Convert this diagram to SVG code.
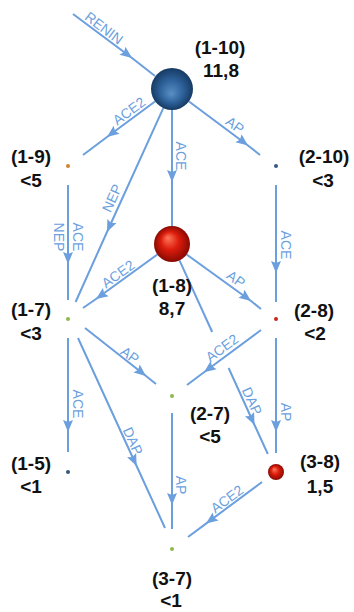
<svg xmlns="http://www.w3.org/2000/svg" width="354" height="612" viewBox="0 0 354 612">
<style>
.c{fill:none;stroke:#6b9fde;stroke-width:2;marker-mid:url(#ah)}
.s{fill:none;stroke:#6b9fde;stroke-width:2}
.l{font-family:"Liberation Sans",Arial,sans-serif;font-size:14px;fill:#6b9fde;text-anchor:middle}
.n{font-family:"Liberation Sans",Arial,sans-serif;font-size:19px;font-weight:bold;fill:#111;text-anchor:middle}
</style>
<defs>
<marker id="ah" markerUnits="userSpaceOnUse" markerWidth="14" markerHeight="12" viewBox="-13 -6 14 12" refX="0" refY="0" orient="auto">
<path d="M-12,-5 L0,0 L-12,5 L-10,0 z" fill="#6b9fde"/>
</marker>
<radialGradient id="gb" cx="50%" cy="50%" r="50%" fx="48%" fy="62%">
<stop offset="0" stop-color="#5a8fc6"/>
<stop offset="0.55" stop-color="#2d6199"/>
<stop offset="1" stop-color="#163a63"/>
</radialGradient>
<radialGradient id="gr" cx="50%" cy="50%" r="50%" fx="38%" fy="32%">
<stop offset="0" stop-color="#ff7a5c"/>
<stop offset="0.5" stop-color="#dc1c0c"/>
<stop offset="1" stop-color="#880a02"/>
</radialGradient>
</defs>

<g id="connectors">
<path class="c" d="M73,14 L132,58 L155,76"/>
<text class="l" transform="translate(104,28) rotate(37)" dy="0.35em">RENIN</text>

<path class="c" d="M155,101.5 L107,137 L83,155"/>
<text class="l" transform="translate(129,111) rotate(-36.5)" dy="0.35em">ACE2</text>

<path class="c" d="M172,110 L172,182 L172,226"/>
<text class="l" transform="translate(181,156) rotate(90)" dy="0.35em">ACE</text>

<path class="c" d="M189,101.5 L248,145.5 L260,155"/>
<text class="l" transform="translate(235,125) rotate(36.5)" dy="0.35em">AP</text>

<path class="c" d="M163.3,108.1 L107,232 L75.6,302"/>
<text class="l" transform="translate(112,198) rotate(-65.7)" dy="0.35em">NEP</text>

<path class="c" d="M68,185 L68,264 L68,300"/>
<text class="l" transform="translate(78,237) rotate(90)" dy="0.35em">ACE</text>
<text class="l" transform="translate(59,237) rotate(90)" dy="0.35em">NEP</text>

<path class="c" d="M157.4,254.5 L96,299 L83,308"/>
<text class="l" transform="translate(118,274) rotate(-35.8)" dy="0.35em">ACE2</text>

<path class="c" d="M186.6,254.5 L251,301 L261,309"/>
<text class="l" transform="translate(236,279) rotate(35.8)" dy="0.35em">AP</text>

<path class="c" d="M276,185 L276,273 L276,302"/>
<text class="l" transform="translate(286,245) rotate(90)" dy="0.35em">ACE</text>

<path class="s" d="M179.5,260.4 L212.2,332"/>
<path class="c" d="M228.6,368 L254.5,425 L267.8,454"/>
<text class="l" transform="translate(252,401) rotate(65.5)" dy="0.35em">DAP</text>

<path class="c" d="M261,330 L204,372.3 L187,385"/>
<text class="l" transform="translate(222,348) rotate(-36.5)" dy="0.35em">ACE2</text>

<path class="c" d="M85,328 L146,376 L156,384"/>
<text class="l" transform="translate(130,355) rotate(36.5)" dy="0.35em">AP</text>

<path class="c" d="M78,338 L136.6,466 L165,528"/>
<text class="l" transform="translate(133,441) rotate(65.7)" dy="0.35em">DAP</text>

<path class="c" d="M68,338 L68,432 L68,452"/>
<text class="l" transform="translate(78,404) rotate(90)" dy="0.35em">ACE</text>

<path class="c" d="M172,413 L172,505 L172,529"/>
<text class="l" transform="translate(181,485) rotate(90)" dy="0.35em">AP</text>

<path class="c" d="M276,338 L276,432 L276,453"/>
<text class="l" transform="translate(286,412) rotate(90)" dy="0.35em">AP</text>

<path class="c" d="M262,482 L206,523.6 L188,537"/>
<text class="l" transform="translate(227,499) rotate(-36.5)" dy="0.35em">ACE2</text>
</g>

<g id="n1-10">
<circle cx="172" cy="89" r="21" fill="url(#gb)"/>
<text class="n" x="220" y="54">(1-10)</text>
<text class="n" x="221" y="77">11,8</text>
</g>
<g id="n1-9">
<circle cx="68" cy="166" r="2" fill="#d4822c"/>
<text class="n" x="31" y="163">(1-9)</text>
<text class="n" x="31" y="187">&lt;5</text>
</g>
<g id="n2-10">
<circle cx="276" cy="166" r="2" fill="#36597f"/>
<text class="n" x="324" y="163">(2-10)</text>
<text class="n" x="323" y="187">&lt;3</text>
</g>
<g id="n1-8">
<circle cx="172" cy="244" r="18" fill="url(#gr)"/>
<text class="n" x="172" y="292">(1-8)</text>
<text class="n" x="172" y="315">8,7</text>
</g>
<g id="n1-7">
<circle cx="68" cy="319" r="2" fill="#8cbb4c"/>
<text class="n" x="31" y="316">(1-7)</text>
<text class="n" x="31" y="340">&lt;3</text>
</g>
<g id="n2-8">
<circle cx="276" cy="319" r="2" fill="#c42a1c"/>
<text class="n" x="314" y="317">(2-8)</text>
<text class="n" x="315" y="340">&lt;2</text>
</g>
<g id="n2-7">
<circle cx="172" cy="396" r="2" fill="#8cbb4c"/>
<text class="n" x="210" y="420">(2-7)</text>
<text class="n" x="210" y="443">&lt;5</text>
</g>
<g id="n1-5">
<circle cx="68" cy="472" r="2" fill="#36597f"/>
<text class="n" x="31" y="470">(1-5)</text>
<text class="n" x="31" y="493">&lt;1</text>
</g>
<g id="n3-8">
<circle cx="276" cy="472" r="8" fill="url(#gr)"/>
<text class="n" x="320" y="468">(3-8)</text>
<text class="n" x="320" y="493">1,5</text>
</g>
<g id="n3-7">
<circle cx="172" cy="549" r="2" fill="#8cbb4c"/>
<text class="n" x="172" y="585">(3-7)</text>
<text class="n" x="171" y="607">&lt;1</text>
</g>
</svg>
